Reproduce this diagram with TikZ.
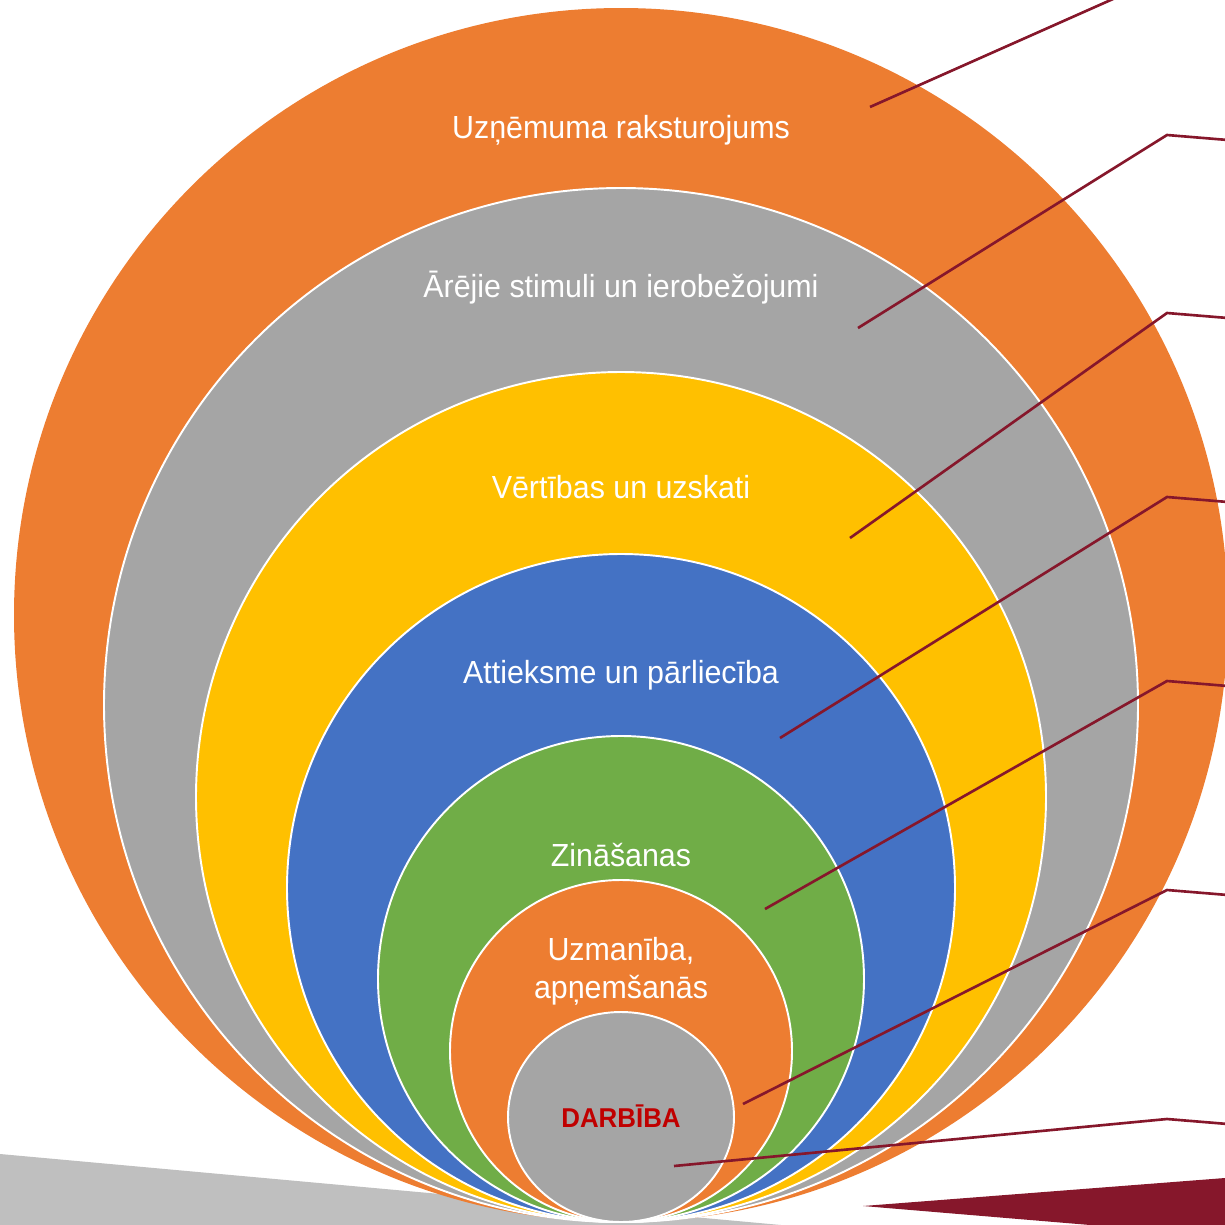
\documentclass[tikz,border=0pt]{standalone}
\usepackage{fontspec}
\setmainfont{Liberation Sans}[FakeStretch=0.95]
\usepackage{tikz}
\definecolor{orng}{HTML}{ED7D31}
\definecolor{grey}{HTML}{A5A5A5}
\definecolor{gold}{HTML}{FFC000}
\definecolor{blu}{HTML}{4472C4}
\definecolor{grn}{HTML}{70AD47}
\definecolor{lgrey}{HTML}{BFBFBF}
\definecolor{wine}{HTML}{86172B}
\definecolor{darkred}{HTML}{C00000}

\begin{document}
\begin{tikzpicture}[
x=0.02cm, y=-0.02cm,
ring/.style={
		draw=white,
		line width=1.1pt,
		},
lbl/.style={
		text=white,
		font=\fontsize{18.2}{21.5}\selectfont,
		anchor=base,
		align=center,
		},
lead/.style={draw=wine, line width=1.5pt},
]

\def \cx {621}
\def \size {1225}

\useasboundingbox (0,0) rectangle (\size,\size);
\clip (0,0) rectangle (\size,\size);

% wedges at the bottom
\fill[lgrey] (0,1154) -- (781,1225) -- (0,1225) -- cycle;
\fill[wine] (863,1206) -- (1225,1178) -- (1225,1225) -- (1090,1225) -- cycle;

% nested circles, all touching at the bottom
\fill[orng] (\cx,615) circle[radius=607];
\foreach \cy/\r/\col in {705/517/grey, 797/425/gold, 888/334/blu, 979/243/grn, 1051/171/orng}
{
  \filldraw[ring, fill=\col] (\cx,\cy) circle[radius=\r];
}
\filldraw[ring, fill=grey] (\cx,1117) circle[x radius=113, y radius=105];

\node[lbl] (firm) at (\cx,138) {Uzņēmuma raksturojums};
\node[lbl] (stim) at (\cx,297) {Ārējie stimuli un ierobežojumi};
\node[lbl] (vals) at (\cx,498) {Vērtības un uzskati};
\node[lbl] (atti) at (\cx,683) {Attieksme un pārliecība};
\node[lbl] (know) at (\cx,866) {Zināšanas};
\node[lbl] (care) at (\cx,998) {Uzmanība,\\apņemšanās};
\node[lbl, text=darkred, font=\fontsize{15.5}{18}\selectfont\bfseries] (act) at (\cx,1127) {DARBĪBA};

% leader lines out to the right
\foreach \i/\px/\py/\ky in {1/870/107/-25, 2/858/328/135, 3/850/538/313, 4/780/738/497, 5/765/909/681, 6/743/1104/890, 7/674/1166/1119}
{
  \coordinate (p\i) at (\px,\py);
  \coordinate (k\i) at (1167,\ky);
  \coordinate (e\i) at (1240,\ky+6);
  \draw[lead] (p\i) -- (k\i) -- (e\i);
}

\end{tikzpicture}
\end{document}
